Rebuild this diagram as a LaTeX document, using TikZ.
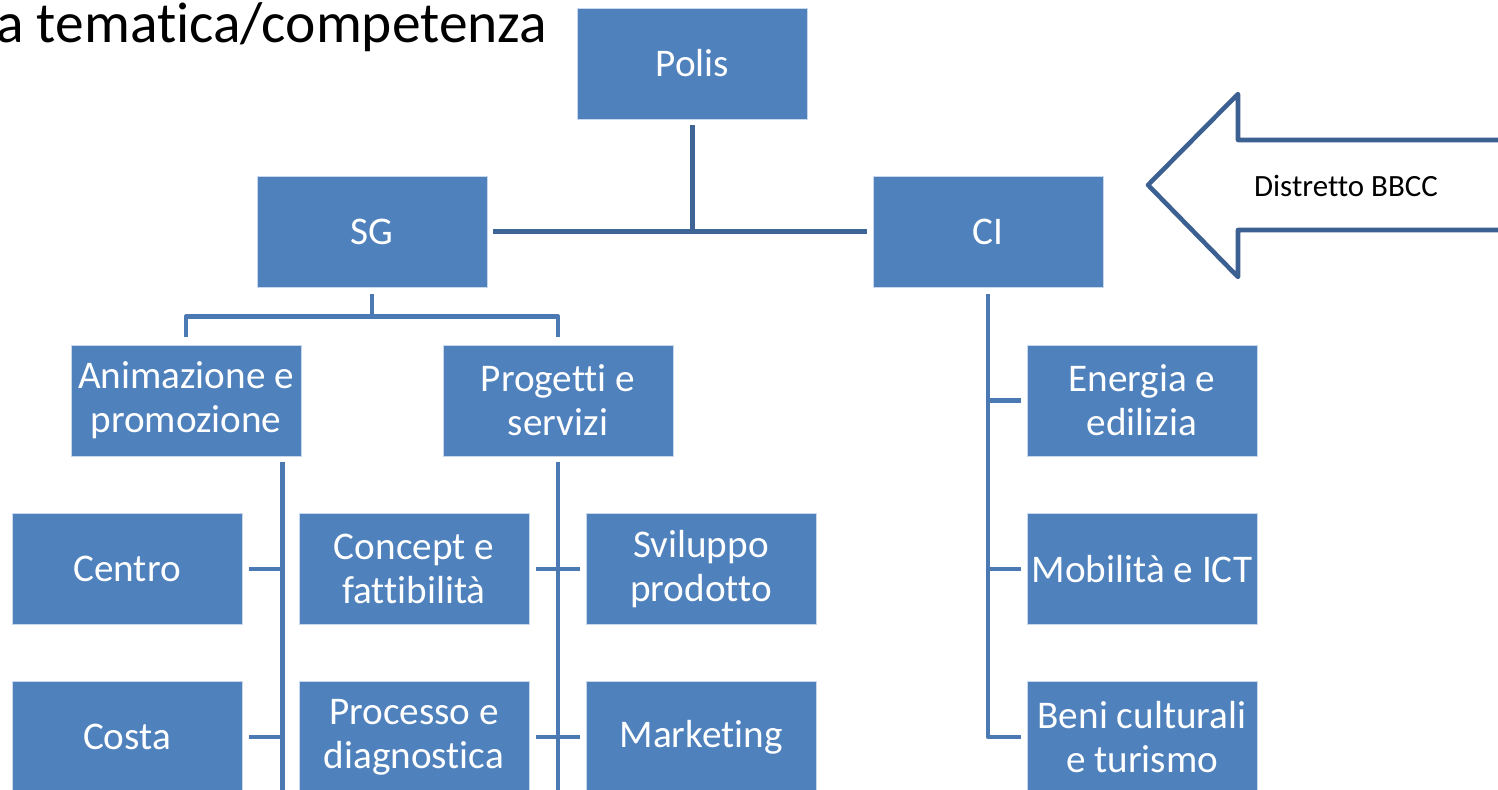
\documentclass[tikz,border=0pt]{standalone}
\usepackage{fontspec}
\setmainfont{Carlito}[Renderer=OpenType, RawFeature={-liga;-clig;-dlig;-calt;-rlig}]
\definecolor{boxblue}{RGB}{79,129,189}
\definecolor{boxedge}{RGB}{200,215,235}
\definecolor{linedark}{RGB}{63,100,150}
\definecolor{linelight}{RGB}{74,121,180}
\definecolor{arrowblue}{RGB}{60,96,145}
\tikzset{
	unit/.style={rectangle, fill=boxblue, draw=boxedge, line width=0.4pt, minimum width=4.6cm, minimum height=2.22cm, inner sep=0pt, align=center, text=white, font=\fontsize{22.3}{25}\selectfont},
	toplink/.style={draw=linedark, line width=2.5pt},
	link/.style={draw=linelight, line width=2.5pt}
}

\begin{document}
\begin{tikzpicture}
			\useasboundingbox (0, 0) rectangle (29.96, -15.8);
			\clip (0, 0) rectangle (29.96, -15.8);
			\node[anchor=base west, inner sep=0pt, font=\fontsize{32.7}{37}\selectfont] (TITLE)at(-0.08, -0.85) {a tematica/competenza};
			\node[unit] (POLIS)at(13.85, -1.27) {Polis};
			\node[unit] (SG)at(7.44, -4.63) {SG};
			\node[unit] (CI)at(19.76, -4.63) {CI};
			\node[unit] (ANIM)at(3.72, -8.01) {Animazione e\\promozione};
			\node[unit] (PROG)at(11.16, -8.01) {Progetti e\\servizi};
			\node[unit] (ENER)at(22.84, -8.01) {Energia e\\edilizia};
			\node[unit] (CENTRO)at(2.54, -11.38) {Centro};
			\node[unit] (CONCEPT)at(8.28, -11.38) {Concept e\\fattibilità};
			\node[unit] (SVIL)at(14.02, -11.38) {Sviluppo\\prodotto};
			\node[unit] (MOBI)at(22.84, -11.38) {Mobilità e ICT};
			\node[unit] (COSTA)at(2.54, -14.74) {Costa};
			\node[unit] (PROC)at(8.28, -14.74) {Processo e\\diagnostica};
			\node[unit] (MARK)at(14.02, -14.74) {Marketing};
			\node[unit] (BENI)at(22.84, -14.74) {Beni culturali\\e turismo};
			\coordinate (J1) at (POLIS.south |- SG.east);
			\draw[toplink] ([yshift=-0.12cm]POLIS.south) -- (J1);
			\draw[toplink] ([xshift=0.12cm]SG.east) -- ([xshift=-0.12cm]CI.west);
			\coordinate (J2) at ([yshift=-0.58cm]SG.south);
			\draw[link] ([yshift=-0.14cm]SG.south) -- (J2);
			\draw[link, line join=round] ([yshift=0.16cm]ANIM.north) |- (J2) -| ([yshift=0.16cm]PROG.north);
			\coordinate (ANIMTOP) at ([xshift=-0.38cm, yshift=-0.12cm]ANIM.south east);
			\coordinate (ANIMEND) at (ANIMTOP |- 0, -16.2);
			\draw[link] (ANIMTOP) -- (ANIMEND);
			\draw[link] ([xshift=0.14cm]CENTRO.east) -- (CENTRO.east -| ANIMTOP);
			\draw[link] ([xshift=0.14cm]COSTA.east) -- (COSTA.east -| ANIMTOP);
			\coordinate (PROGTOP) at ([yshift=-0.12cm]PROG.south);
			\coordinate (PROGEND) at (PROGTOP |- 0, -16.2);
			\draw[link] (PROGTOP) -- (PROGEND);
			\draw[link] ([xshift=0.14cm]CONCEPT.east) -- ([xshift=-0.12cm]SVIL.west);
			\draw[link] ([xshift=0.14cm]PROC.east) -- ([xshift=-0.12cm]MARK.west);
			\coordinate (CITOP) at ([yshift=-0.14cm]CI.south);
			\draw[link, line join=round] (CITOP) |- ([xshift=-0.12cm]BENI.west);
			\draw[link] (ENER.west -| CITOP) -- ([xshift=-0.12cm]ENER.west);
			\draw[link] (MOBI.west -| CITOP) -- ([xshift=-0.12cm]MOBI.west);
			\draw[draw=arrowblue, fill=white, line width=2.6pt, line join=round] (22.96, -3.70) -- (24.76, -1.88) -- (24.76, -2.80) -- (30.3, -2.80) -- (30.3, -4.60) -- (24.76, -4.60) -- (24.76, -5.54) -- cycle;
			\node[font=\fontsize{17.6}{20}\selectfont] (DISTRETTO)at(26.92, -3.72) {Distretto BBCC};
		\end{tikzpicture}
\end{document}
